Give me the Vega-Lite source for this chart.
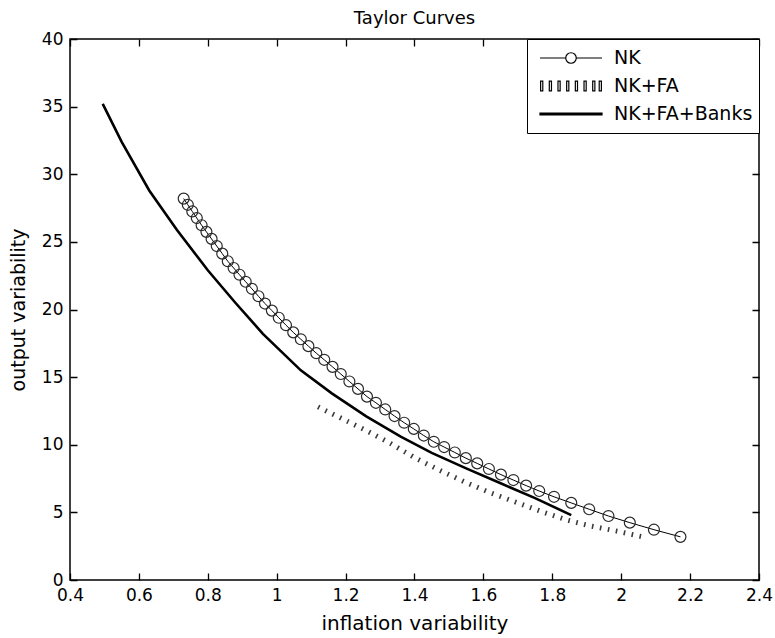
{
  "$schema": "https://vega.github.io/schema/vega-lite/v6.json",
  "width": 689,
  "height": 541,
  "autosize": "none",
  "padding": {"left": 70, "top": 39, "right": 16, "bottom": 58},
  "background": "white",
  "title": {"text": "Taylor Curves", "font": "DejaVu Sans", "fontSize": 18, "fontWeight": "normal", "color": "black", "offset": 2},
  "config": {
    "view": {"stroke": "black", "strokeWidth": 1.5},
    "axis": {
      "domain": false, "ticks": false,
      "labelFont": "DejaVu Sans", "labelFontSize": 17, "labelColor": "black", "labelFlush": false,
      "titleFont": "DejaVu Sans", "titleFontSize": 19, "titleFontWeight": "normal", "titleColor": "black"
    }
  },
  "datasets": {
    "curves": [
      {"series": "NK", "x": 0.730, "y": 28.20},
      {"series": "NK", "x": 0.742, "y": 27.74},
      {"series": "NK", "x": 0.755, "y": 27.25},
      {"series": "NK", "x": 0.768, "y": 26.76},
      {"series": "NK", "x": 0.782, "y": 26.23},
      {"series": "NK", "x": 0.796, "y": 25.74},
      {"series": "NK", "x": 0.811, "y": 25.22},
      {"series": "NK", "x": 0.826, "y": 24.69},
      {"series": "NK", "x": 0.842, "y": 24.13},
      {"series": "NK", "x": 0.858, "y": 23.57},
      {"series": "NK", "x": 0.875, "y": 23.07},
      {"series": "NK", "x": 0.892, "y": 22.57},
      {"series": "NK", "x": 0.910, "y": 22.05},
      {"series": "NK", "x": 0.928, "y": 21.53},
      {"series": "NK", "x": 0.947, "y": 20.98},
      {"series": "NK", "x": 0.966, "y": 20.44},
      {"series": "NK", "x": 0.986, "y": 19.92},
      {"series": "NK", "x": 1.006, "y": 19.39},
      {"series": "NK", "x": 1.027, "y": 18.84},
      {"series": "NK", "x": 1.048, "y": 18.31},
      {"series": "NK", "x": 1.070, "y": 17.80},
      {"series": "NK", "x": 1.092, "y": 17.29},
      {"series": "NK", "x": 1.115, "y": 16.77},
      {"series": "NK", "x": 1.138, "y": 16.28},
      {"series": "NK", "x": 1.162, "y": 15.76},
      {"series": "NK", "x": 1.186, "y": 15.23},
      {"series": "NK", "x": 1.211, "y": 14.68},
      {"series": "NK", "x": 1.236, "y": 14.13},
      {"series": "NK", "x": 1.262, "y": 13.56},
      {"series": "NK", "x": 1.288, "y": 13.10},
      {"series": "NK", "x": 1.315, "y": 12.61},
      {"series": "NK", "x": 1.342, "y": 12.12},
      {"series": "NK", "x": 1.370, "y": 11.63},
      {"series": "NK", "x": 1.398, "y": 11.17},
      {"series": "NK", "x": 1.427, "y": 10.68},
      {"series": "NK", "x": 1.456, "y": 10.22},
      {"series": "NK", "x": 1.486, "y": 9.83},
      {"series": "NK", "x": 1.517, "y": 9.43},
      {"series": "NK", "x": 1.549, "y": 9.01},
      {"series": "NK", "x": 1.582, "y": 8.62},
      {"series": "NK", "x": 1.616, "y": 8.21},
      {"series": "NK", "x": 1.651, "y": 7.79},
      {"series": "NK", "x": 1.687, "y": 7.39},
      {"series": "NK", "x": 1.724, "y": 6.98},
      {"series": "NK", "x": 1.762, "y": 6.58},
      {"series": "NK", "x": 1.805, "y": 6.15},
      {"series": "NK", "x": 1.855, "y": 5.70},
      {"series": "NK", "x": 1.907, "y": 5.23},
      {"series": "NK", "x": 1.963, "y": 4.73},
      {"series": "NK", "x": 2.025, "y": 4.24},
      {"series": "NK", "x": 2.095, "y": 3.72},
      {"series": "NK", "x": 2.172, "y": 3.19},
      {"series": "NK+FA", "x": 1.12, "y": 12.8},
      {"series": "NK+FA", "x": 1.20, "y": 11.8},
      {"series": "NK+FA", "x": 1.26, "y": 11.05},
      {"series": "NK+FA", "x": 1.33, "y": 10.1},
      {"series": "NK+FA", "x": 1.40, "y": 9.05},
      {"series": "NK+FA", "x": 1.47, "y": 8.15},
      {"series": "NK+FA", "x": 1.55, "y": 7.2},
      {"series": "NK+FA", "x": 1.62, "y": 6.45},
      {"series": "NK+FA", "x": 1.70, "y": 5.7},
      {"series": "NK+FA", "x": 1.77, "y": 5.05},
      {"series": "NK+FA", "x": 1.84, "y": 4.45},
      {"series": "NK+FA", "x": 1.91, "y": 4.0},
      {"series": "NK+FA", "x": 1.99, "y": 3.6},
      {"series": "NK+FA", "x": 2.06, "y": 3.2},
      {"series": "NK+FA+Banks", "x": 0.495, "y": 35.2},
      {"series": "NK+FA+Banks", "x": 0.55, "y": 32.4},
      {"series": "NK+FA+Banks", "x": 0.63, "y": 28.8},
      {"series": "NK+FA+Banks", "x": 0.71, "y": 25.9},
      {"series": "NK+FA+Banks", "x": 0.80, "y": 22.9},
      {"series": "NK+FA+Banks", "x": 0.88, "y": 20.5},
      {"series": "NK+FA+Banks", "x": 0.96, "y": 18.2},
      {"series": "NK+FA+Banks", "x": 1.07, "y": 15.5},
      {"series": "NK+FA+Banks", "x": 1.16, "y": 13.8},
      {"series": "NK+FA+Banks", "x": 1.26, "y": 12.1},
      {"series": "NK+FA+Banks", "x": 1.36, "y": 10.6},
      {"series": "NK+FA+Banks", "x": 1.45, "y": 9.4},
      {"series": "NK+FA+Banks", "x": 1.55, "y": 8.25},
      {"series": "NK+FA+Banks", "x": 1.65, "y": 7.15},
      {"series": "NK+FA+Banks", "x": 1.75, "y": 6.05},
      {"series": "NK+FA+Banks", "x": 1.855, "y": 4.8}
    ]
  },
  "data": {"name": "curves"},
  "layer": [
    {
      "transform": [{"filter": "datum.series === 'NK+FA+Banks'"}],
      "mark": {"type": "line", "color": "black", "strokeWidth": 2.6},
      "encoding": {
        "x": {"field": "x", "type": "quantitative", "scale": {"domain": [0.4, 2.4], "nice": false, "zero": false},
              "axis": {"values": [0.4, 0.6, 0.8, 1, 1.2, 1.4, 1.6, 1.8, 2, 2.2, 2.4], "format": "~g", "title": "inflation variability", "titleFontSize": 20,
                       "grid": true, "gridColor": "black", "gridWidth": 1.3, "gridOpacity": 1, "gridDash": [7, 527],
                       "labelPadding": 7, "titlePadding": 10}},
        "y": {"field": "y", "type": "quantitative", "scale": {"domain": [0, 40], "nice": false},
              "axis": {"values": [0, 5, 10, 15, 20, 25, 30, 35, 40], "title": "output variability",
                       "grid": true, "gridColor": "black", "gridWidth": 1.3, "gridOpacity": 1, "gridDash": [7, 675],
                       "labelPadding": 7, "titlePadding": 13}}
      }
    },
    {
      "transform": [{"filter": "datum.series === 'NK+FA'"}],
      "mark": {"type": "line", "color": "#3a3a3a", "strokeWidth": 5, "strokeDash": [1.6, 6.5], "strokeCap": "butt"},
      "encoding": {
        "x": {"field": "x", "type": "quantitative"},
        "y": {"field": "y", "type": "quantitative"}
      }
    },
    {
      "transform": [{"filter": "datum.series === 'NK'"}],
      "mark": {"type": "line", "color": "black", "strokeWidth": 1},
      "encoding": {
        "x": {"field": "x", "type": "quantitative"},
        "y": {"field": "y", "type": "quantitative"}
      }
    },
    {
      "transform": [{"filter": "datum.series === 'NK'"}],
      "mark": {"type": "point", "shape": "circle", "filled": false, "stroke": "#2a2a2a", "strokeWidth": 1.2, "size": 120, "opacity": 1},
      "encoding": {
        "x": {"field": "x", "type": "quantitative"},
        "y": {"field": "y", "type": "quantitative"}
      }
    },
    {
      "transform": [{"filter": "datum.x > 100"}],
      "mark": {"type": "point", "filled": false, "stroke": "black", "strokeWidth": 1.2, "opacity": 1},
      "encoding": {
        "x": {"field": "x", "type": "quantitative"},
        "y": {"field": "y", "type": "quantitative"},
        "shape": {"field": "series", "type": "nominal",
          "legend": {
            "title": null, "orient": "top-right", "offset": 0, "strokeColor": "black", "fillColor": "white", "padding": 6,
            "labelFont": "DejaVu Sans", "labelFontSize": 19, "labelColor": "black",
            "symbolSize": 3844, "clipHeight": 26, "rowPadding": 2, "symbolOffset": 6, "labelOffset": 11,
            "symbolStrokeColor": "black", "symbolStrokeWidth": 1.2, "symbolFillColor": "transparent", "symbolOpacity": 1
          },
          "scale": {"domain": ["NK", "NK+FA", "NK+FA+Banks"],
            "range": [
              "M-1,0H-0.17M0.17,0H1M0.17,0A0.17,0.17 0 1 1 -0.17,0A0.17,0.17 0 1 1 0.17,0",
              "M-0.98,-0.16h0.07v0.32h-0.07zM-0.70,-0.16h0.07v0.32h-0.07zM-0.42,-0.16h0.07v0.32h-0.07zM-0.14,-0.16h0.07v0.32h-0.07zM0.14,-0.16h0.07v0.32h-0.07zM0.42,-0.16h0.07v0.32h-0.07zM0.70,-0.16h0.07v0.32h-0.07zM0.91,-0.16h0.07v0.32h-0.07z",
              "M-1,-0.03H1V0.03H-1ZM-1,0H1"
            ]}}
      }
    }
  ]
}
